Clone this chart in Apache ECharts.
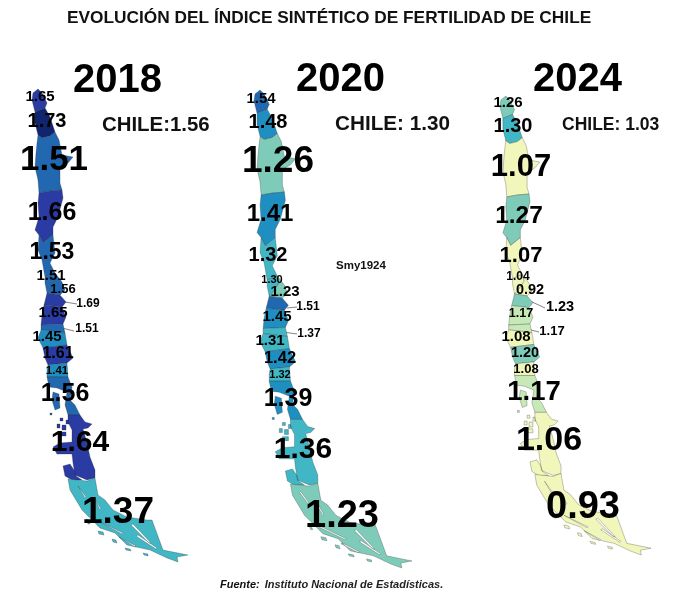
<!DOCTYPE html>
<html>
<head>
<meta charset="utf-8">
<title>Fertilidad Chile</title>
<script src="https://cdn.jsdelivr.net/npm/echarts@6/dist/echarts.min.js"></script>
<style>
html, body { margin: 0; padding: 0; background: #fff; }
#main { width: 680px; height: 597px; }
</style>
</head>
<body>
<div id="main"></div>
<script>
var regiones = ['Arica', 'Tarapaca', 'Antofagasta', 'Atacama', 'Coquimbo', 'Valparaiso', 'Metropolitana', 'OHiggins',
	'Maule', 'Nuble', 'Biobio', 'Araucania', 'LosRios', 'LosLagos', 'Aysen', 'Magallanes'];
var anios = ['2018', '2020', '2024'];
var valores2018 = [1.65, 1.73, 1.51, 1.66, 1.53, 1.51, 1.56, 1.69, 1.65, 1.51, 1.45, 1.61, 1.41, 1.56, 1.64, 1.37];
var valores2020 = [1.54, 1.48, 1.26, 1.41, 1.32, 1.30, 1.23, 1.51, 1.45, 1.37, 1.31, 1.42, 1.32, 1.39, 1.36, 1.23];
var valores2024 = [1.26, 1.30, 1.07, 1.27, 1.07, 1.04, 0.92, 1.23, 1.17, 1.17, 1.08, 1.20, 1.08, 1.17, 1.06, 0.93];
var totales = ['CHILE:1.56', 'CHILE: 1.30', 'CHILE: 1.03'];

// x, y, font size of every region label
var etiquetas2018 = [[40,97,15],[47,121,20],[54,160,35],[52,213,25],[52,253,23],[51,276,15],[63,289,13],[88,304,12],
	[53,313,15],[87,329,12],[47,337,15],[58,354,16],[57,371,11.5],[65,394,25],[80,443,30],[118,513,37]];
var etiquetas2020 = [[261,99,15],[268,122,20],[278,162,37],[270,214,24],[268,255,20],[272,280,11],[285,292,15],[308,307,12],
	[277,317,15],[309,334,12],[270,341,15],[280,358,16.5],[280,375,11],[288,399,25],[303,450,30],[342,517,38]];
var etiquetas2024 = [[508,103,15],[513,126,20],[521,167,31],[519,216,24.5],[521,256,22],[518,277,12],[530,290,14.5],[560,307,14.5],
	[521,314,12.5],[552,331,13],[516,337,15],[525,353,14.5],[526,369,13],[534,392,27.5],[549,441,34],[583,508,38]];

// leader lines of the two small regions
var guias = [[65,302,77,304],[62,328,74,331],[287,308,297,307],[283,332,297,334],[528,300,545,308],[523,328,539,332]];

// map outline, every entry is a list of polygons, holes after the outer ring
var contornos = {
	Arica: [[[[38,89],[42,93],[47,103],[45,108],[35,112],[32,100],[33,93]]]],
	Tarapaca: [[[[35,112],[45,108],[50,117],[55,132],[50,136],[42,138],[38,135],[35,123]]]],
	Antofagasta: [[[[38,135],[42,138],[50,136],[55,132],[59,140],[62,155],[73,157],[68,163],[60,168],[60,183],[62,190],[50,191],[39,193],[38,180],[35,167],[36,153],[37,143]]]],
	Atacama: [[[[39,193],[50,191],[62,190],[63,198],[58,217],[53,227],[53,235],[43,243],[39,235],[35,230],[39,217],[38,203]]]],
	Coquimbo: [[[[39,235],[43,243],[53,235],[55,253],[50,263],[55,273],[45,277],[42,260],[38,250]]]],
	Valparaiso: [[[[45,277],[55,273],[57,280],[50,290],[47,293],[45,283]]]],
	Metropolitana: [[[[55,273],[62,282],[65,290],[60,295],[47,293],[50,290],[57,280]]]],
	OHiggins: [[[[47,293],[60,295],[66,302],[62,307],[44,305]]]],
	Maule: [[[[44,305],[62,307],[66,317],[63,324],[41,325],[42,315]]]],
	Nuble: [[[[41,325],[63,324],[65,333],[50,331],[41,330]]]],
	Biobio: [[[[41,330],[50,331],[65,333],[67,345],[43,348],[38,338]]]],
	Araucania: [[[[43,348],[67,345],[73,358],[67,363],[48,365],[45,358]]]],
	LosRios: [[[[48,365],[67,363],[68,377],[47,377],[47,370]]]],
	LosLagos: [
		[[[47,377],[68,377],[72,387],[70,400],[75,405],[80,415],[68,415],[65,405],[67,392],[57,388],[49,387]]],
		[[[53,392],[59,394],[60,408],[55,410],[52,400]]],
		[[[50,413],[52,413],[52,415],[50,415]]]
	],
	Aysen: [
		[[[68,415],[80,415],[85,422],[92,424],[88,428],[83,429],[87,443],[90,457],[95,470],[95,478],[87,480],[75,475],[73,463],[72,454],[57,454],[53,447],[60,443],[72,442],[72,430],[68,422]]],
		[[[60,418],[63,418],[63,421],[60,421]]],
		[[[57,424],[60,424],[60,428],[57,428]]],
		[[[62,425],[66,425],[66,430],[62,430]]],
		[[[60,432],[66,432],[66,436],[60,436]]],
		[[[66,420],[68,420],[69,424],[66,424]]],
		[[[63,466],[70,464],[74,470],[76,476],[82,480],[72,480],[65,476]]]
	],
	Magallanes: [
		[
			[[68,479],[87,481],[95,478],[98,495],[105,500],[113,510],[127,517],[147,520],[152,520],[163,550],[178,553],[188,555],[177,557],[178,562],[167,558],[150,550],[127,545],[115,533],[100,528],[90,518],[82,510],[70,490]],
			[[133,524],[131,525],[149,543],[151,543]],
			[[138,535],[136,536],[156,549],[157,548]],
			[[98,521],[97,522],[122,534],[123,533]],
			[[119,537],[118,538],[135,547],[136,546]],
			[[78,486],[77,487],[85,498],[86,497]],
			[[94,497],[93,498],[100,510],[101,509]]
		],
		[[[86,519],[88,520],[90,524],[88,524]]],
		[[[98,531],[103,532],[104,535],[99,534]]],
		[[[112,539],[116,540],[117,543],[113,542]]],
		[[[125,548],[130,549],[131,551],[126,550]]],
		[[[143,553],[148,554],[148,556],[144,555]]]
	]
};

var cuadros = [
	{ left: 32, top: 89, width: 156, height: 473 },
	{ left: 254, top: 90, width: 158, height: 478 },
	{ left: 500, top: 96, width: 151, height: 459 }
];
var escala = [
	{ lte: 1.08, color: '#f1f7bb' },
	{ gt: 1.08, lte: 1.17, color: '#c7e9b8' },
	{ gt: 1.17, lte: 1.27, color: '#7fcbb9' },
	{ gt: 1.27, lte: 1.37, color: '#41b6c4' },
	{ gt: 1.37, lte: 1.48, color: '#1f8fc2' },
	{ gt: 1.48, lte: 1.56, color: '#2268b0' },
	{ gt: 1.56, lte: 1.7, color: '#2a3ba3' },
	{ gt: 1.7, color: '#10256d' }
];

var features = regiones.map(function(nombre) {
	return {
		type: 'Feature',
		properties: { name: nombre },
		geometry: {
			type: 'MultiPolygon',
			coordinates: contornos[nombre].map(function(poligono) {
				return poligono.map(function(anillo) {
					return anillo.map(function(p) { return [p[0], -p[1]]; });
				});
			})
		}
	};
});
anios.forEach(function(a) {
	echarts.registerMap('chile' + a, { type: 'FeatureCollection', features: features });
});

function serie(i, valores, etiquetas) {
	return {
		type: 'map',
		map: 'chile' + anios[i],
		aspectScale: 1,
		left: cuadros[i].left,
		top: cuadros[i].top,
		width: cuadros[i].width,
		height: cuadros[i].height,
		silent: true,
		itemStyle: { borderColor: 'rgba(40,40,40,0.55)', borderWidth: 0.5 },
		label: {
			show: true,
			color: '#000',
			fontWeight: 'bold',
			fontFamily: 'Liberation Sans',
			formatter: function(p) { return p.value.toFixed(2); }
		},
		labelLayout: function(p) {
			var e = etiquetas[p.dataIndex];
			return { x: e[0], y: e[1], align: 'center', verticalAlign: 'middle', fontSize: e[2] };
		},
		data: regiones.map(function(nombre, k) {
			return { name: nombre, value: valores[k] };
		})
	};
}

function texto(t, left, top, size, extra) {
	return {
		text: t,
		left: left,
		top: top,
		padding: 0,
		textStyle: Object.assign({ fontFamily: 'Liberation Sans', fontWeight: 'bold', fontSize: size, color: '#111' }, extra || {})
	};
}

var chart = echarts.init(document.getElementById('main'));
var option = {
	backgroundColor: '#fff',
	animation: false,
	title: [
		texto('EVOLUCIÓN DEL ÍNDICE SINTÉTICO DE FERTILIDAD DE CHILE', 67, 10, 17.3),
		texto(anios[0], 73, 61, 40, { color: '#000' }),
		texto(anios[1], 296, 60, 40, { color: '#000' }),
		texto(anios[2], 533, 60, 40, { color: '#000' }),
		texto(totales[0], 102, 115, 20.4),
		texto(totales[1], 335, 114, 20.7),
		texto(totales[2], 562, 116, 17.5),
		texto('Smy1924', 336, 260, 11.5),
		{
			text: '{b|Fuente:} {i|Instituto Nacional de Estadísticas.}',
			left: 220,
			top: 576,
			padding: 0,
			textStyle: {
				rich: {
					b: { fontFamily: 'Liberation Sans', fontSize: 11, fontWeight: 'bold', fontStyle: 'italic', color: '#111' },
					i: { fontFamily: 'Liberation Sans', fontSize: 11, fontStyle: 'italic', color: '#222' }
				}
			}
		}
	],
	visualMap: { show: false, type: 'piecewise', seriesIndex: [0, 1, 2], pieces: escala },
	series: [
		serie(0, valores2018, etiquetas2018),
		serie(1, valores2020, etiquetas2020),
		serie(2, valores2024, etiquetas2024)
	],
	graphic: guias.map(function(g) {
		return {
			type: 'line',
			silent: true,
			shape: { x1: g[0], y1: g[1], x2: g[2], y2: g[3] },
			style: { stroke: '#666', lineWidth: 0.8 }
		};
	})
};
chart.setOption(option);
</script>
</body>
</html>
